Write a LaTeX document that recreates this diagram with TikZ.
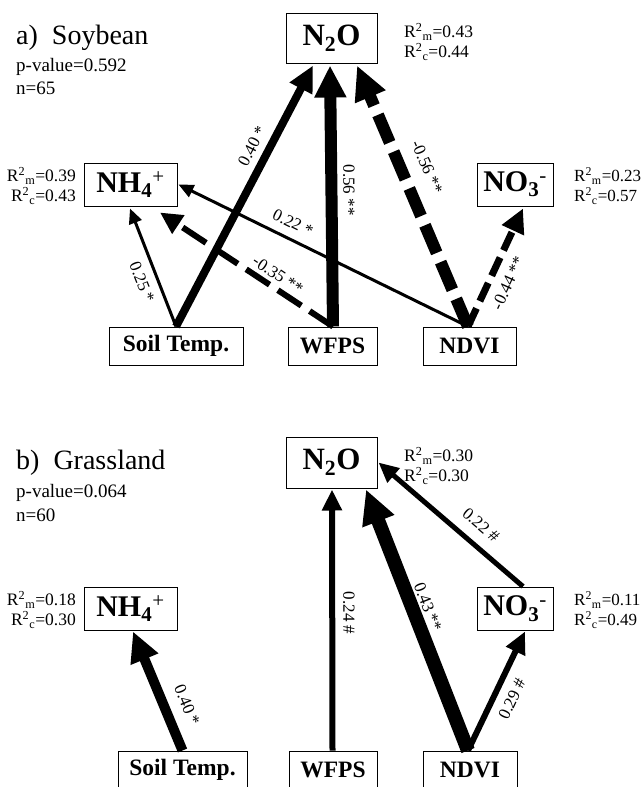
\documentclass[tikz,border=0pt]{standalone}
\usepackage{fontspec}
\setmainfont{Liberation Serif}
\usetikzlibrary{arrows.meta}
\begin{document}
\begin{tikzpicture}[x=1pt,y=1pt,
  box/.style={draw, line width=1pt, inner sep=0pt},
  bigbox/.style={box, font=\fontsize{31}{31}\selectfont\bfseries},
  midbox/.style={box, font=\fontsize{30}{30}\selectfont\bfseries},
  srcbox/.style={box, minimum height=38pt, font=\fontsize{23.5}{24}\selectfont\bfseries},
  lbl/.style={inner sep=0pt, font=\fontsize{17}{17}\selectfont},
  rsq/.style={inner sep=0pt, font=\fontsize{17.5}{20}\selectfont},
  rsqr/.style={inner sep=0pt, font=\fontsize{17}{20}\selectfont},
  ttl/.style={anchor=west, inner sep=0pt, font=\fontsize{28}{30}\selectfont},
  info/.style={anchor=west, inner sep=0pt, font=\fontsize{19}{20}\selectfont},
  arr/.style={draw, line cap=butt},
]
\useasboundingbox (0,0) rectangle (644,-787);
\clip (0,0) rectangle (644,-787);

% ================= a) Soybean =================
\node[ttl] (ta) at (16,-38) {a)\ \ Soybean};
\node[info] (pa) at (16,-67) {p-value=0.592};
\node[info] (na) at (16,-88) {n=65};

\node[bigbox, minimum width=91pt, minimum height=50pt] (N2Oa) at (331.5,-38) {N\textsubscript{2}O};
\node[midbox, minimum width=93pt, minimum height=43pt] (NH4a) at (130.5,-184.5) {NH\textsubscript{4}\textsuperscript{\mdseries+}};
\node[midbox, minimum width=76pt, minimum height=43pt] (NO3a) at (515,-184.5) {NO\textsubscript{3}\textsuperscript{\mdseries-}};
\node[srcbox, minimum width=134pt] (STa) at (176,-346) {Soil Temp.};
\node[srcbox, minimum width=89pt] (WFa) at (332.5,-346) {WFPS};
\node[srcbox, minimum width=93pt] (NDa) at (469.5,-346) {NDVI};

\node[rsq, anchor=west, align=left] (rN2Oa) at (404,-42) {R\textsuperscript{2}\textsubscript{m}=0.43\\R\textsuperscript{2}\textsubscript{c}=0.44};
\node[rsq, anchor=east, align=right] (rNH4a) at (76,-186) {R\textsuperscript{2}\textsubscript{m}=0.39\\R\textsuperscript{2}\textsubscript{c}=0.43};
\node[rsqr, anchor=west, align=left] (rNO3a) at (574,-186) {R\textsuperscript{2}\textsubscript{m}=0.23\\R\textsuperscript{2}\textsubscript{c}=0.57};

% arrows
\draw[arr, line width=3pt, -{Triangle[length=15pt,width=13pt]}] (STa.north) -- ([xshift=-0.5pt,yshift=-2pt]NH4a.south);
\draw[arr, line width=3pt, -{Triangle[length=15pt,width=13pt]}] ([xshift=-1.5pt]NDa.north) -- ([xshift=1pt]NH4a.east);
\draw[arr, line width=6pt, dash pattern=on 28pt off 10pt, -{Triangle[length=22pt,width=21pt]}] ([xshift=0.5pt]WFa.north) -- ([xshift=29.5pt,yshift=-6pt]NH4a.south);
\draw[arr, line width=8pt, -{Triangle[length=26pt,width=24pt]}] (STa.north) -- ([xshift=-18.5pt,yshift=-2pt]N2Oa.south);
\draw[arr, line width=12pt, -{Triangle[length=32pt,width=30pt]}] ([xshift=0.5pt]WFa.north) -- ([xshift=-1.5pt,yshift=-2pt]N2Oa.south);
\draw[arr, line width=12pt, dash pattern=on 30pt off 10pt, -{Triangle[length=34pt,width=31pt]}] ([xshift=-1.5pt]NDa.north) -- ([xshift=25.5pt,yshift=-2pt]N2Oa.south);
\draw[arr, line width=7pt, dash pattern=on 20pt off 8pt, -{Triangle[length=24pt,width=23pt]}] ([xshift=-1.5pt]NDa.north) -- ([xshift=8pt,yshift=-2pt]NO3a.south);

% labels
\node[lbl, rotate=62.7] (l1) at (252,-146) {0.40 *};
\node[lbl, rotate=-90] (l2) at (349,-190) {0.56 **};
\node[lbl, rotate=-67] (l3) at (427,-167) {-0.56 **};
\node[lbl, rotate=-68.4] (l4) at (142,-282) {0.25 *};
\node[lbl, rotate=-33.6] (l5) at (278,-275) {-0.35 **};
\node[lbl, rotate=-26.1] (l6) at (293,-223) {0.22 *};
\node[lbl, rotate=65.2] (l7) at (508,-283) {-0.44 **};

% ================= b) Grassland =================
\node[ttl] (tb) at (16,-463) {b)\ \ Grassland};
\node[info] (pb) at (16,-493) {p-value=0.064};
\node[info] (nb) at (16,-515) {n=60};

\node[bigbox, minimum width=91pt, minimum height=51pt] (N2Ob) at (331.5,-462.5) {N\textsubscript{2}O};
\node[midbox, minimum width=93pt, minimum height=43pt] (NH4b) at (130.5,-608.5) {NH\textsubscript{4}\textsuperscript{\mdseries+}};
\node[midbox, minimum width=76pt, minimum height=43pt] (NO3b) at (515,-608.5) {NO\textsubscript{3}\textsuperscript{\mdseries-}};
\node[srcbox, minimum width=129pt] (STb) at (182.5,-770) {Soil Temp.};
\node[srcbox, minimum width=88pt] (WFb) at (333,-770) {WFPS};
\node[srcbox, minimum width=94pt] (NDb) at (470,-770) {NDVI};

\node[rsq, anchor=west, align=left] (rN2Ob) at (404,-466) {R\textsuperscript{2}\textsubscript{m}=0.30\\R\textsuperscript{2}\textsubscript{c}=0.30};
\node[rsq, anchor=east, align=right] (rNH4b) at (76,-610) {R\textsuperscript{2}\textsubscript{m}=0.18\\R\textsuperscript{2}\textsubscript{c}=0.30};
\node[rsqr, anchor=west, align=left] (rNO3b) at (574,-610) {R\textsuperscript{2}\textsubscript{m}=0.11\\R\textsuperscript{2}\textsubscript{c}=0.49};

\draw[arr, line width=10pt, -{Triangle[length=30pt,width=28pt]}] (STb.north) -- ([xshift=2.5pt,yshift=-1pt]NH4b.south);
\draw[arr, line width=6pt, -{Triangle[length=21pt,width=19pt]}] ([xshift=-0.5pt]WFb.north) -- ([xshift=0.5pt,yshift=-1pt]N2Ob.south);
\draw[arr, line width=14pt, -{Triangle[length=34pt,width=32pt]}] ([xshift=-2pt]NDb.north) -- ([xshift=34.5pt,yshift=-1pt]N2Ob.south);
\draw[arr, line width=5pt, -{Triangle[length=20pt,width=18pt]}] ([xshift=8pt]NO3b.north) -- ([xshift=1pt]N2Ob.east);
\draw[arr, line width=6pt, -{Triangle[length=22pt,width=20pt]}] ([xshift=-2pt]NDb.north) -- ([xshift=10pt,yshift=-1pt]NO3b.south);

\node[lbl, rotate=-67.5] (m1) at (187,-705) {0.40 *};
\node[lbl, rotate=-90] (m2) at (349,-613) {0.24 \#};
\node[lbl, rotate=-69] (m3) at (428,-607) {0.43 **};
\node[lbl, rotate=-40.5] (m4) at (481,-525) {0.22 \#};
\node[lbl, rotate=64.8] (m5) at (512,-699) {0.29 \#};
\end{tikzpicture}
\end{document}
